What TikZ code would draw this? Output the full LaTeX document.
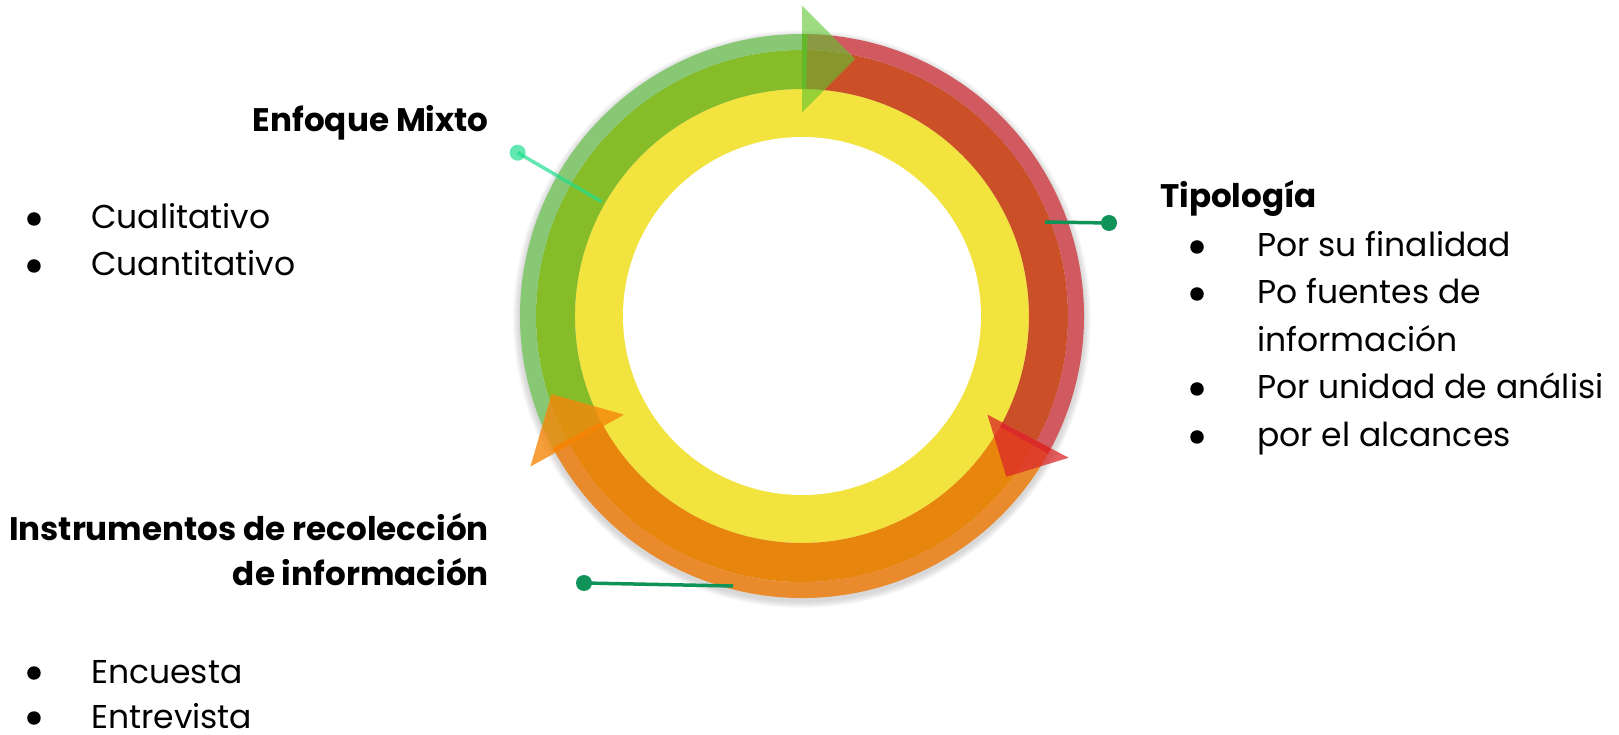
\documentclass[tikz,border=0pt]{standalone}
\usepackage{fontspec}
\setmainfont{Poppins}
\definecolor{gdark}{HTML}{86BC28}
\definecolor{glight}{HTML}{88C874}
\definecolor{gext}{HTML}{6FA824}
\definecolor{rdark}{HTML}{CB5028}
\definecolor{rlight}{HTML}{D05A5F}
\definecolor{rext}{HTML}{D63232}
\definecolor{odark}{HTML}{E8850C}
\definecolor{olight}{HTML}{E98A2D}
\definecolor{oext}{HTML}{F07800}
\definecolor{ring}{HTML}{F2E33E}
\definecolor{garrow}{HTML}{5DC52F}
\definecolor{rarrow}{HTML}{DC2828}
\definecolor{oarrow}{HTML}{F5870A}
\definecolor{mint}{HTML}{1FDE8E}
\definecolor{leader}{HTML}{0F9358}
\tikzset{
  itemtext/.style={font=\fontsize{33}{40}\selectfont, inner sep=0pt},
  titletext/.style={font=\bfseries\fontsize{32.6}{38}\selectfont, inner sep=0pt, align=right},
  bulletdot/.style={circle, fill=black, minimum size=13.5pt, inner sep=0pt},
  leaderdot/.style={circle, minimum size=16pt, inner sep=0pt},
}
\begin{document}
\begin{tikzpicture}[x=1pt,y=1pt]
\useasboundingbox (-802,-419) rectangle (817,316);
% soft shadow
\foreach \k in {1,...,7}{
  \fill[black, opacity=0.025] (0,-3) circle[radius=282+\k];
}
% yellow ring
\fill[ring] (0,0) circle[radius=227];
\fill[white] (0,0) circle[radius=179];
% green band
\fill[gdark] (209:227) arc[start angle=209, end angle=90, radius=227] -- (90:266) arc[start angle=90, end angle=209, radius=266] -- cycle;
\fill[glight] (209:266) arc[start angle=209, end angle=90, radius=266] -- (90:282) arc[start angle=90, end angle=209, radius=282] -- cycle;
% red band
\fill[rdark] (90:227) arc[start angle=90, end angle=-28, radius=227] -- (-28:266) arc[start angle=-28, end angle=90, radius=266] -- cycle;
\fill[rlight] (90:266) arc[start angle=90, end angle=-28, radius=266] -- (-28:282) arc[start angle=-28, end angle=90, radius=282] -- cycle;
% orange band
\fill[odark] (-28:227) arc[start angle=-28, end angle=-151, radius=227] -- (-151:266) arc[start angle=-151, end angle=-28, radius=266] -- cycle;
\fill[olight] (-28:266) arc[start angle=-28, end angle=-151, radius=266] -- (-151:282) arc[start angle=-151, end angle=-28, radius=282] -- cycle;
% overlap stripes
\fill[gext] (90:227) arc[start angle=90, end angle=88.9, radius=227] -- (88.9:282) arc[start angle=88.9, end angle=90, radius=282] -- cycle;
\fill[rext] (-28:227) arc[start angle=-28, end angle=-29.2, radius=227] -- (-29.2:282) arc[start angle=-29.2, end angle=-28, radius=282] -- cycle;
\fill[oext] (209:227) arc[start angle=209, end angle=207.8, radius=227] -- (207.8:282) arc[start angle=207.8, end angle=209, radius=282] -- cycle;
% arrowheads
\fill[garrow, opacity=0.6] (90:203.5) -- (90:310.5) -- (53,257) -- cycle;
\fill[rarrow, opacity=0.75] (-28:210) -- (-28:302) -- (204.4,-160.8) -- cycle;
\fill[oarrow, opacity=0.8] (209:203.5) -- (209:310.5) -- (-250.5,-78.2) -- cycle;
% leaders
\node[leaderdot, fill=mint, opacity=0.7] (d1) at (-284.3,163.3) {};
\coordinate (e1) at (-200.3,114.3);
\draw[mint, opacity=0.7, line width=3.5pt] (d1.center) -- (e1);
\node[leaderdot, fill=leader] (d2) at (307,93) {};
\coordinate (e2) at (243,94);
\draw[leader, line width=3.5pt] (d2.center) -- (e2);
\node[leaderdot, fill=leader] (d3) at (-218,-267) {};
\coordinate (e3) at (-69,-270);
\draw[leader, line width=3.5pt] (d3.center) -- (e3);
% texts left top
\node[titletext, anchor=base east] (t1) at (-313,184) {Enfoque Mixto};
\node[bulletdot] (b11) at (-768,97) {};
\node[itemtext, anchor=base west] (i11) at (-711,87) {Cualitativo};
\node[bulletdot] (b12) at (-768,50) {};
\node[itemtext, anchor=base west] (i12) at (-711,40) {Cuantitativo};
% texts right
\node[titletext, anchor=base west] (t2) at (358,108) {Tipología};
\node[bulletdot] (b21) at (395,69) {};
\node[itemtext, anchor=base west] (i21) at (455,59) {Por su finalidad};
\node[bulletdot] (b22) at (395,22) {};
\node[itemtext, anchor=base west] (i22) at (455,12) {Po fuentes de};
\node[itemtext, anchor=base west] (i23) at (455,-36) {información};
\node[bulletdot] (b24) at (395,-73) {};
\node[itemtext, anchor=base west] (i24) at (455,-83) {Por unidad de análisi};
\node[bulletdot] (b25) at (395,-121) {};
\node[itemtext, anchor=base west] (i25) at (455,-131) {por el alcances};
% texts left bottom
\node[titletext, anchor=base east] (t3) at (-313,-225) {Instrumentos de recolección};
\node[titletext, anchor=base east] (t3b) at (-313,-270) {de información};
\node[bulletdot] (b31) at (-768,-357) {};
\node[itemtext, anchor=base west] (i31) at (-711,-367) {Encuesta};
\node[bulletdot] (b32) at (-768,-402) {};
\node[itemtext, anchor=base west] (i32) at (-711,-412) {Entrevista};
\end{tikzpicture}
\end{document}
